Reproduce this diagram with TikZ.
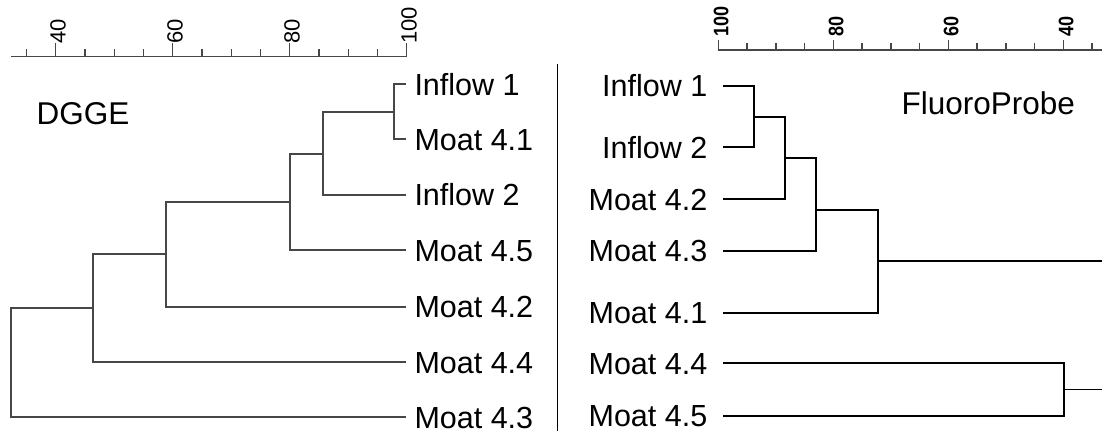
\documentclass[tikz,border=0pt]{standalone}
\usepackage{fontspec}
\setmainfont{Liberation Sans}
\usepackage{graphicx}
\begin{document}
\begin{tikzpicture}[x=1pt,y=-1pt,
  lab/.style={inner sep=0pt, font=\fontsize{30.5}{35}\selectfont, text height=21.6pt, text depth=0pt},
  title/.style={inner sep=0pt, anchor=base west, font=\fontsize{31.5}{36}\selectfont},
  ltree/.style={draw=black!72, line width=1.8pt},
  rtree/.style={draw=black, line width=2pt},
  axisline/.style={draw=black!72, line width=1.4pt},
  lnum/.style={inner sep=0pt, rotate=90, anchor=west, font=\fontsize{22}{26}\selectfont, text height=15.8pt, text depth=0pt},
  rnum/.style={inner sep=0pt, rotate=90, anchor=west, font=\bfseries\fontsize{21}{25}\selectfont, text height=15pt, text depth=0pt}
]
\useasboundingbox (0,0) rectangle (1102,431);

% ---------- left scale (DGGE) ----------
\draw[axisline] (11,56.7) -- (406,56.7);
\foreach \v in {35,45,50,55,65,70,75,85,90,95}
  \draw[axisline] ({55.7+(\v-40)*5.85},56.7) -- ++(0,-7.4);
\foreach \v in {40,60,80,100}{
  \draw[axisline] ({55.7+(\v-40)*5.85},56.7) -- ++(0,-14);
  \node[lnum] (lt\v) at ({57.7+(\v-40)*5.85},43.8) {\v};
}

% ---------- right scale (FluoroProbe) ----------
\draw[axisline] (718.3,50) -- (1102,50);
\foreach \v in {95,90,85,75,70,65,55,50,45,35}
  \draw[axisline] ({718.3+(100-\v)*5.75},50) -- ++(0,-6.7);
\foreach \v in {100,80,60,40}{
  \draw[axisline] ({718.3+(100-\v)*5.75},50) -- ++(0,-10);
  \node[rnum] (rt\v) at ({720.8+(100-\v)*5.75},36.5) {\scalebox{0.86}[1]{\v}};
}

% divider between the two panels
\coordinate (divtop) at (557.7,64.3);
\coordinate (divbot) at (557.7,431);
\draw[line width=1.1pt] (divtop) -- (divbot);

% ---------- titles ----------
\node[title] (dgge) at (36.4,124.3) {DGGE};
\node[title] (fluoro) at (901.3,114) {FluoroProbe};

% ---------- left dendrogram ----------
\foreach \n/\y/\t in {I1/84.3/Inflow 1, M41/139.3/Moat 4.1, I2/195/Inflow 2,
                      M45/250.3/Moat 4.5, M42/307/Moat 4.2, M44/362.3/Moat 4.4,
                      M43/417.3/Moat 4.3}{
  \coordinate (lt\n) at (406,\y);
  \node[lab, anchor=west] (l\n) at (414.3,\y) {\t};
}
\coordinate (m1) at (394.3,112.3);
\coordinate (m2) at (322.7,153.7);
\coordinate (m3) at (289.7,202.3);
\coordinate (m4) at (165.7,254.3);
\coordinate (m5) at (93.3,308.3);
\coordinate (m6) at (11,362.8);
\draw[ltree] (ltI1) -| (m1) |- (ltM41);
\draw[ltree] (m1) -| (m2) |- (ltI2);
\draw[ltree] (m2) -| (m3) |- (ltM45);
\draw[ltree] (m3) -| (m4) |- (ltM42);
\draw[ltree] (m4) -| (m5) |- (ltM44);
\draw[ltree] (m5) -| (m6) |- (ltM43);

% ---------- right dendrogram ----------
\foreach \n/\y/\t in {I1/85.7/Inflow 1, I2/147.3/Inflow 2, M42/199.3/Moat 4.2,
                      M43/251/Moat 4.3, M41/312.7/Moat 4.1, M44/363.3/Moat 4.4,
                      M45/416/Moat 4.5}{
  \coordinate (rt\n) at (723.3,\y);
  \node[lab, anchor=east] (r\n) at (707.5,\y) {\t};
}
\coordinate (n1) at (754,116.5);
\coordinate (n2) at (785,158);
\coordinate (n3) at (816.3,210);
\coordinate (n4) at (878.3,260.7);
\coordinate (n5) at (1064,389.3);
\coordinate (e1) at (1102,260.7);
\coordinate (e2) at (1102,389.3);
\draw[rtree] (rtI1) -| (n1) |- (rtI2);
\draw[rtree] (n1) -| (n2) |- (rtM42);
\draw[rtree] (n2) -| (n3) |- (rtM43);
\draw[rtree] (n3) -| (n4) |- (rtM41);
\draw[rtree] (n4) -- (e1);
\draw[rtree] (rtM44) -| (n5) |- (rtM45);
\draw[draw=black, line width=1.2pt] (n5) -- (e2);
\end{tikzpicture}
\end{document}
